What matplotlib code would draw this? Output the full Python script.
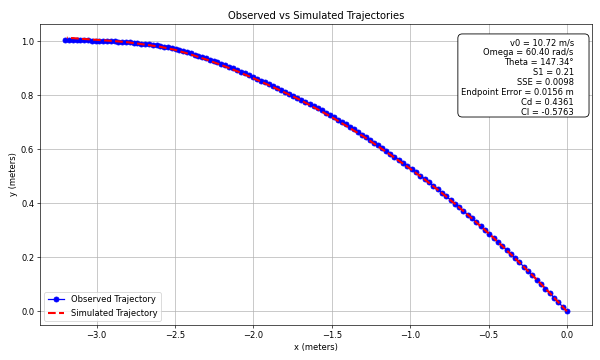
import matplotlib
matplotlib.use("Agg")
import matplotlib.pyplot as plt
from matplotlib.patches import FancyBboxPatch

# Observed trajectory
obs_x = [0.0, -0.0275, -0.055, -0.0825, -0.11, -0.1375, -0.165, -0.1925, -0.22, -0.2475,
         -0.275, -0.3025, -0.33, -0.3575, -0.385, -0.4125, -0.44, -0.4675, -0.495, -0.5225,
         -0.55, -0.5775, -0.605, -0.6325, -0.66, -0.6875, -0.715, -0.7425, -0.77, -0.7975,
         -0.825, -0.8525, -0.88, -0.9075, -0.935, -0.9625, -0.99, -1.0175, -1.045, -1.0725,
         -1.1, -1.1258, -1.1516, -1.1774, -1.2032, -1.229, -1.2548, -1.2806, -1.3064, -1.3322,
         -1.358, -1.3838, -1.4096, -1.4354, -1.4612, -1.487, -1.5128, -1.5386, -1.5644, -1.5902,
         -1.616, -1.6418, -1.6676, -1.6934, -1.7192, -1.745, -1.7708, -1.7966, -1.8224, -1.8482,
         -1.874, -1.8998, -1.9256, -1.9514, -1.9772, -2.003, -2.0288, -2.0546, -2.0804, -2.1062,
         -2.132, -2.1563, -2.1806, -2.2049, -2.2292, -2.2535, -2.2778, -2.3021, -2.3264, -2.3507,
         -2.375, -2.3993, -2.4236, -2.4479, -2.4722, -2.4965, -2.5208, -2.5451, -2.5694, -2.5937,
         -2.618, -2.6423, -2.6666, -2.6909, -2.7152, -2.7395, -2.7638, -2.7881, -2.8124, -2.8367,
         -2.861, -2.8853, -2.9096, -2.9339, -2.9582, -2.9825, -3.0068, -3.0311, -3.0554, -3.0797,
         -3.104, -3.1283, -3.1526, -3.1769, -3.2012]
obs_y = [0.0, 0.0172, 0.0342, 0.0511, 0.0678, 0.0844, 0.1009, 0.1172, 0.1333, 0.1493,
         0.1652, 0.1809, 0.1965, 0.2119, 0.2272, 0.2423, 0.2573, 0.2722, 0.2868, 0.3014,
         0.3158, 0.3301, 0.3442, 0.3581, 0.3719, 0.3856, 0.3991, 0.4125, 0.4258, 0.4388,
         0.4518, 0.4645, 0.4772, 0.4897, 0.5020, 0.5142, 0.5263, 0.5382, 0.5499, 0.5615,
         0.5730, 0.5836, 0.5941, 0.6044, 0.6146, 0.6247, 0.6347, 0.6445, 0.6542, 0.6637,
         0.6732, 0.6825, 0.6916, 0.7007, 0.7096, 0.7183, 0.7270, 0.7355, 0.7438, 0.7521,
         0.7602, 0.7682, 0.7760, 0.7837, 0.7913, 0.7988, 0.8061, 0.8133, 0.8203, 0.8272,
         0.8340, 0.8406, 0.8472, 0.8535, 0.8606, 0.8674, 0.8741, 0.8806, 0.8871, 0.8934,
         0.8996, 0.9053, 0.9109, 0.9161, 0.9215, 0.9265, 0.9315, 0.9364, 0.9411, 0.9457,
         0.9503, 0.9547, 0.9589, 0.9631, 0.9670, 0.9709, 0.9741, 0.9769, 0.9796, 0.9823,
         0.9844, 0.9863, 0.9882, 0.9899, 0.9914, 0.9930, 0.9943, 0.9955, 0.9966, 0.9976,
         0.9984, 0.9992, 0.9998, 1.0002, 1.0006, 1.0009, 1.0012, 1.0021, 1.0027, 1.0033,
         1.0037, 1.0040, 1.0043, 1.0043, 1.0042]

# Simulated trajectory
sim_x = [0.0, -0.1, -0.2, -0.3, -0.4, -0.5, -0.6, -0.7, -0.8, -0.9, -1.0, -1.1, -1.2, -1.3,
         -1.4, -1.5, -1.6, -1.7, -1.8, -1.9, -2.0, -2.1, -2.2, -2.3, -2.4, -2.5, -2.6, -2.7,
         -2.8, -2.9, -3.0, -3.1, -3.19]
sim_y = [0.000, 0.062, 0.122, 0.179, 0.235, 0.289, 0.341, 0.391, 0.439, 0.485, 0.528, 0.569,
         0.609, 0.648, 0.684, 0.719, 0.751, 0.782, 0.810, 0.837, 0.863, 0.888, 0.911, 0.932,
         0.951, 0.968, 0.980, 0.988, 0.996, 1.001, 1.005, 1.009, 1.013]

# Fitted parameters shown in the box
param_lines = [
    "v0 = 10.72 m/s",
    "Omega = 60.40 rad/s",
    "Theta = 147.34°",
    "S1 = 0.21",
    "SSE = 0.0098",
    "Endpoint Error = 0.0156 m",
    "Cd = 0.4361",
    "Cl = -0.5763",
]

fig, ax = plt.subplots(figsize=(10, 6), dpi=60)
fig.subplots_adjust(left=40 / 600, right=592 / 600, top=1 - 24 / 360, bottom=1 - 325 / 360)

ax.plot(obs_x, obs_y, 'b-o', markersize=6, linewidth=1.5, label="Observed Trajectory")
ax.plot(sim_x, sim_y, 'r--', linewidth=2.5, label="Simulated Trajectory")

ax.set_xlabel("x (meters)")
ax.set_ylabel("y (meters)")
ax.set_title("Observed vs Simulated Trajectories")
ax.legend(loc="lower left")
ax.grid(True)

# Parameter box (wider on the right than the text, like the original)
box = FancyBboxPatch((0.757, 0.691), 0.2376, 0.276, transform=ax.transAxes,
                     boxstyle="round,pad=0,rounding_size=0.008", mutation_aspect=552 / 301,
                     facecolor="white", edgecolor="black", linewidth=1, zorder=5)
ax.add_patch(box)
ax.text(0.967, 0.953, "\n".join(param_lines), transform=ax.transAxes,
        ha="right", va="top", multialignment="right", linespacing=1.15, zorder=6)

plt.savefig("out.png", dpi=60)
